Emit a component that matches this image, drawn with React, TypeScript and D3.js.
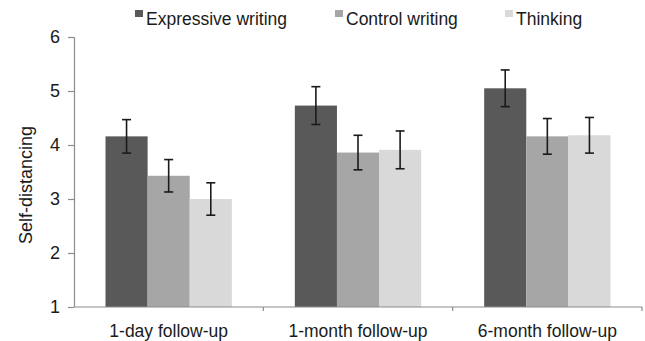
import React, { useRef, useEffect } from 'react';
import * as d3 from 'd3';

const groups = ['1-day follow-up', '1-month follow-up', '6-month follow-up'];
const seriesNames = ['Expressive writing', 'Control writing', 'Thinking'];
const seriesColors = ['#595959', '#a6a6a6', '#d9d9d9'];

// valores médios por série (um por grupo)
const expressiveValues = [4.16, 4.73, 5.05];
const controlValues = [3.43, 3.86, 4.16];
const thinkingValues = [3.0, 3.91, 4.18];

// erros (+/-)
const expressiveErrors = [0.31, 0.35, 0.34];
const controlErrors = [0.30, 0.32, 0.33];
const thinkingErrors = [0.30, 0.35, 0.33];

const yTicks = [1, 2, 3, 4, 5, 6];

const App = () => {
  const svgRef = useRef<SVGSVGElement>(null);
  const width = 645;
  const height = 341;

  useEffect(() => {
    const svg = d3.select(svgRef.current)
      .attr('width', width)
      .attr('height', height);

    svg.selectAll('*').remove();

    const font = 'Liberation Sans, Arial, sans-serif';
    const fs = 17.5;
    const margin = { top: 37, right: 3, bottom: 34, left: 74 };
    const innerWidth = width - margin.left - margin.right;
    const innerHeight = height - margin.top - margin.bottom;

    const g = svg.append('g')
      .attr('transform', `translate(${margin.left}, ${margin.top})`);

    const x0 = d3.scaleBand()
      .domain(groups)
      .range([0, innerWidth])
      .paddingInner(0)
      .paddingOuter(0);

    const x1 = d3.scaleBand()
      .domain(seriesNames)
      .range([31.5, x0.bandwidth() - 31.5]);

    const y = d3.scaleLinear()
      .domain([1, 6])
      .range([innerHeight, 0]);

    const allValues = [expressiveValues, controlValues, thinkingValues];
    const allErrors = [expressiveErrors, controlErrors, thinkingErrors];

    const rows = groups.flatMap((grp, gi) =>
      seriesNames.map((s, si) => ({
        group: grp,
        series: s,
        color: seriesColors[si],
        value: allValues[si][gi],
        err: allErrors[si][gi],
      }))
    );

    // barras
    g.selectAll('.bar')
      .data(rows)
      .enter()
      .append('rect')
      .attr('class', 'bar')
      .attr('x', d => x0(d.group)! + x1(d.series)!)
      .attr('y', d => y(d.value))
      .attr('width', x1.bandwidth())
      .attr('height', d => innerHeight - y(d.value))
      .attr('fill', d => d.color);

    // barras de erro
    const cap = 4.5;
    const eb = g.selectAll('.err')
      .data(rows)
      .enter()
      .append('g')
      .attr('class', 'err')
      .attr('stroke', '#1a1a1a')
      .attr('stroke-width', 1.6);

    const cx = (d: any) => x0(d.group)! + x1(d.series)! + x1.bandwidth() / 2;

    eb.append('line')
      .attr('x1', cx).attr('x2', cx)
      .attr('y1', d => y(d.value + d.err))
      .attr('y2', d => y(d.value - d.err));
    eb.append('line')
      .attr('x1', d => cx(d) - cap).attr('x2', d => cx(d) + cap)
      .attr('y1', d => y(d.value + d.err)).attr('y2', d => y(d.value + d.err));
    eb.append('line')
      .attr('x1', d => cx(d) - cap).attr('x2', d => cx(d) + cap)
      .attr('y1', d => y(d.value - d.err)).attr('y2', d => y(d.value - d.err));

    // eixo X
    const xAxis = g.append('g')
      .attr('transform', `translate(0, ${innerHeight})`);
    xAxis.append('line')
      .attr('x1', 0).attr('x2', innerWidth)
      .attr('stroke', '#8c8c8c').attr('stroke-width', 1.2);
    xAxis.selectAll('.xtick')
      .data(groups.map(gr => x0(gr)! + x0.bandwidth()))
      .enter()
      .append('line')
      .attr('x1', d => d).attr('x2', d => d)
      .attr('y1', 0).attr('y2', 4)
      .attr('stroke', '#8c8c8c').attr('stroke-width', 1.2);
    xAxis.selectAll('.xlabel')
      .data(groups)
      .enter()
      .append('text')
      .attr('x', d => x0(d)! + x0.bandwidth() / 2)
      .attr('y', 29.5)
      .attr('text-anchor', 'middle')
      .attr('font-family', font)
      .attr('font-size', fs)
      .attr('fill', '#1a1a1a')
      .text(d => d);

    // eixo Y
    const yAxis = g.append('g')
      .call(d3.axisLeft(y).tickValues(yTicks).tickSize(6).tickPadding(8).tickFormat(d3.format('d')));
    yAxis.select('.domain').attr('stroke', '#8c8c8c').attr('stroke-width', 1.2)
      .attr('d', `M-6,0.5H0.5V${innerHeight}`);
    yAxis.selectAll('.tick line').attr('stroke', '#8c8c8c').attr('stroke-width', 1.2);
    yAxis.selectAll('.tick text')
      .attr('font-family', font)
      .attr('font-size', 18)
      .attr('fill', '#1a1a1a');

    svg.append('text')
      .attr('transform', `translate(32, ${185}) rotate(-90)`)
      .attr('text-anchor', 'middle')
      .attr('font-family', font)
      .attr('font-size', 18)
      .attr('fill', '#1a1a1a')
      .text('Self-distancing');

    // legenda
    const legendX = [135, 335, 505];
    const legend = svg.append('g');
    const items = legend.selectAll('.item')
      .data(seriesNames)
      .enter()
      .append('g')
      .attr('transform', (d, i) => `translate(${legendX[i]}, 10)`);
    items.append('rect')
      .attr('width', 8).attr('height', 7)
      .attr('fill', (d, i) => seriesColors[i]);
    items.append('text')
      .attr('x', 11)
      .attr('y', 15)
      .attr('font-family', font)
      .attr('font-size', fs)
      .attr('fill', '#1a1a1a')
      .text(d => d);
  }, []);

  return (
    <svg ref={svgRef} style={{ position: 'absolute', left: 0, top: 0, background: '#fff' }}></svg>
  );
};

export default App;
